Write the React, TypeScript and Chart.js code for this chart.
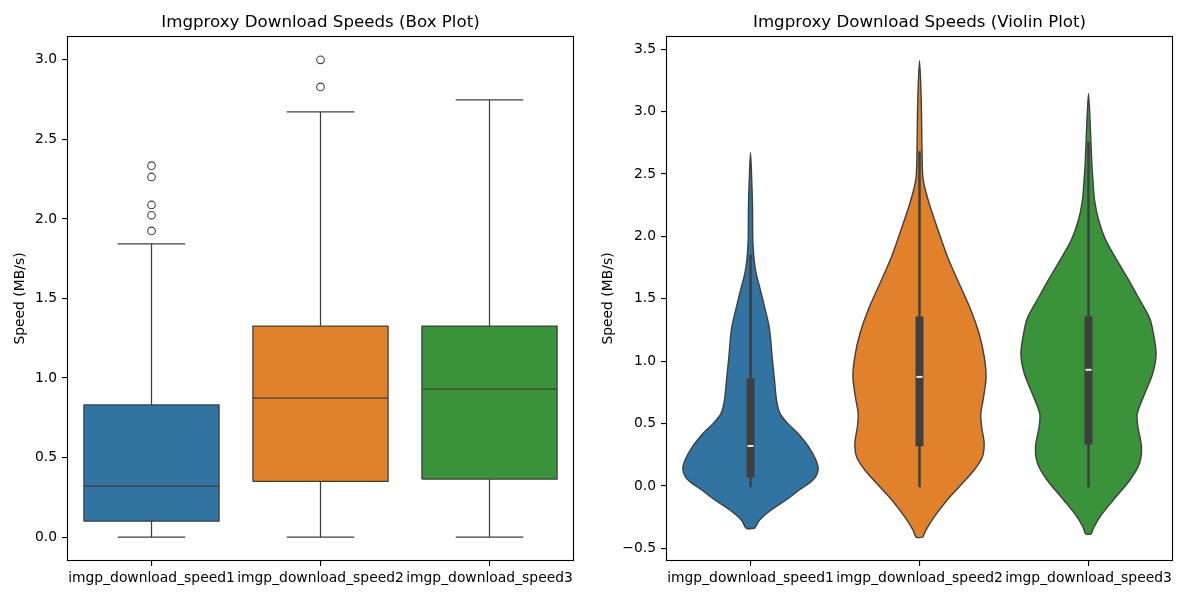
import React, { useEffect, useRef } from "react";
import { Chart, registerables } from "chart.js";

Chart.register(...registerables);

// ---------- data ----------
const CATEGORIES = ["imgp_download_speed1", "imgp_download_speed2", "imgp_download_speed3"];
const COLORS = ["#3274a1", "#e1812c", "#3a923a"];

const Q1 = [0.1, 0.35, 0.365];
const MEDIAN = [0.321, 0.874, 0.931];
const Q3 = [0.831, 1.327, 1.327];
const WHISKER_LOW = [0, 0, 0];
const WHISKER_HIGH = [1.844, 2.673, 2.748];
const OUTLIERS_1 = [2.335, 2.264, 2.088, 2.023, 1.925];
const OUTLIERS_2 = [3.0, 2.83];
const OUTLIERS_3: number[] = [];

const BOX_Y_TICKS = [0, 0.5, 1, 1.5, 2, 2.5, 3];
const VIOLIN_Y_TICKS = [-0.5, 0, 0.5, 1, 1.5, 2, 2.5, 3, 3.5];

// violin outlines: speed levels and relative density (half-width, 1 = widest)
const VIOLIN1_Y = [-0.339, -0.272, -0.192, -0.112, -0.032, 0.048, 0.128, 0.208, 0.315, 0.422, 0.502, 0.582, 0.689, 0.849, 1.04, 1.17, 1.28, 1.44, 1.57, 1.7, 1.81, 1.97, 2.24, 2.5, 2.67];
const VIOLIN1_D = [0.061, 0.135, 0.306, 0.527, 0.72, 0.924, 1.0, 0.968, 0.858, 0.7, 0.55, 0.436, 0.385, 0.355, 0.319, 0.299, 0.275, 0.206, 0.147, 0.085, 0.054, 0.034, 0.03, 0.015, 0];
const VIOLIN2_Y = [-0.41, -0.35, -0.246, -0.11, 0.02, 0.128, 0.235, 0.342, 0.475, 0.58, 0.716, 0.876, 1.04, 1.22, 1.41, 1.62, 1.84, 2.02, 2.24, 2.37, 2.48, 2.69, 3.09, 3.41];
const VIOLIN2_D = [0.049, 0.099, 0.221, 0.412, 0.632, 0.809, 0.931, 0.956, 0.919, 0.907, 0.949, 0.985, 0.956, 0.882, 0.76, 0.588, 0.412, 0.294, 0.157, 0.088, 0.049, 0.037, 0.026, 0];
const VIOLIN3_Y = [-0.385, -0.339, -0.246, -0.112, 0.048, 0.18, 0.315, 0.475, 0.58, 0.743, 0.903, 1.063, 1.276, 1.357, 1.49, 1.65, 1.81, 1.97, 2.13, 2.29, 2.455, 2.586, 2.85, 3.146];
const VIOLIN3_D = [0.041, 0.074, 0.172, 0.368, 0.613, 0.754, 0.784, 0.731, 0.721, 0.834, 0.951, 1.0, 0.941, 0.895, 0.76, 0.595, 0.42, 0.255, 0.15, 0.09, 0.065, 0.049, 0.029, 0];

// ---------- styles ----------
const FONT = "'DejaVu Sans', sans-serif";
const LINE = "#3f3f3f";
const BOX_HALF = 0.4;
const CAP_HALF = 0.2;
const VIOLIN_HALF = 0.4;

type Pt = { x: number; y: number };

function lineDs(data: Pt[], color: string, width: number, order: number, extra: any = {}) {
  return {
    data,
    showLine: true,
    borderColor: color,
    borderWidth: width,
    pointRadius: 0,
    pointHoverRadius: 0,
    fill: false,
    tension: 0,
    order,
    ...extra,
  };
}

function boxDatasets() {
  const outliers = [OUTLIERS_1, OUTLIERS_2, OUTLIERS_3];
  const ds: any[] = [];
  CATEGORIES.forEach((_, i) => {
    ds.push(
      lineDs(
        [
          { x: i - BOX_HALF, y: Q1[i] },
          { x: i + BOX_HALF, y: Q1[i] },
          { x: i + BOX_HALF, y: Q3[i] },
          { x: i - BOX_HALF, y: Q3[i] },
          { x: i - BOX_HALF, y: Q1[i] },
        ],
        LINE,
        1.25,
        5,
        { fill: "shape", backgroundColor: COLORS[i], borderJoinStyle: "miter" }
      )
    );
    ds.push(lineDs([{ x: i, y: Q3[i] }, { x: i, y: WHISKER_HIGH[i] }], LINE, 1.25, 4));
    ds.push(lineDs([{ x: i, y: Q1[i] }, { x: i, y: WHISKER_LOW[i] }], LINE, 1.25, 4));
    ds.push(lineDs([{ x: i - CAP_HALF, y: WHISKER_HIGH[i] }, { x: i + CAP_HALF, y: WHISKER_HIGH[i] }], LINE, 1.25, 4));
    ds.push(lineDs([{ x: i - CAP_HALF, y: WHISKER_LOW[i] }, { x: i + CAP_HALF, y: WHISKER_LOW[i] }], LINE, 1.25, 4));
    ds.push(lineDs([{ x: i - BOX_HALF, y: MEDIAN[i] }, { x: i + BOX_HALF, y: MEDIAN[i] }], LINE, 1.25, 3));
    ds.push({
      data: outliers[i].map((y) => ({ x: i, y })),
      showLine: false,
      pointRadius: 3.8,
      pointHoverRadius: 3.8,
      pointBorderColor: LINE,
      pointBackgroundColor: "rgba(0,0,0,0)",
      pointBorderWidth: 1.1,
      order: 1,
    });
  });
  return ds;
}

function violinDatasets() {
  const violins = [
    { y: VIOLIN1_Y, d: VIOLIN1_D },
    { y: VIOLIN2_Y, d: VIOLIN2_D },
    { y: VIOLIN3_Y, d: VIOLIN3_D },
  ];
  const ds: any[] = [];
  violins.forEach((v, i) => {
    const right = v.y.map((y, k) => ({ x: i + VIOLIN_HALF * v.d[k], y }));
    let left = v.y.map((y, k) => ({ x: i - VIOLIN_HALF * v.d[k], y })).reverse();
    if (v.d[v.d.length - 1] === 0) left = left.slice(1);
    const poly = [...right, ...left, right[0]];
    ds.push(lineDs(poly, LINE, 1.4, 5, { fill: "shape", backgroundColor: COLORS[i], tension: 0.3 }));
    ds.push(lineDs([{ x: i, y: WHISKER_LOW[i] }, { x: i, y: WHISKER_HIGH[i] }], LINE, 2.5, 4, { borderCapStyle: "square" }));
    ds.push(lineDs([{ x: i, y: Q1[i] }, { x: i, y: Q3[i] }], LINE, 8, 3, { borderCapStyle: "square" }));
    ds.push(lineDs([{ x: i - 0.018, y: MEDIAN[i] }, { x: i + 0.018, y: MEDIAN[i] }], "#e8e8e8", 2, 2));
  });
  return ds;
}

const framePlugin = {
  id: "frame",
  afterDraw(chart: any) {
    const { ctx, chartArea } = chart;
    const l = Math.round(chartArea.left) + 0.5;
    const t = Math.round(chartArea.top) + 0.5;
    const r = Math.round(chartArea.right) - 0.5;
    const b = Math.round(chartArea.bottom) - 0.5;
    ctx.save();
    ctx.strokeStyle = "#000";
    ctx.lineWidth = 1.1;
    ctx.strokeRect(l, t, r - l, b - t);
    ctx.restore();
  },
};

const fmt = (v: number) => (v < 0 ? "\u2212" + Math.abs(v).toFixed(1) : v.toFixed(1));

function makeConfig(
  title: string,
  datasets: any[],
  yMin: number,
  yMax: number,
  yTicks: number[],
  yWidth: number,
  padRight: number,
  yTitlePad: number
) {
  const tickFont = { family: FONT, size: 13.89 };
  return {
    type: "scatter" as const,
    data: { datasets },
    plugins: [framePlugin],
    options: {
      animation: false,
      responsive: false,
      events: [],
      layout: { padding: { left: 0, right: padRight, top: 0, bottom: 0 } },
      plugins: {
        legend: { display: false },
        tooltip: { enabled: false },
        title: {
          display: true,
          text: title,
          fullSize: false,
          color: "#000",
          font: { family: FONT, size: 16.67, weight: "normal", lineHeight: 1.2 },
          padding: { top: 13, bottom: 3 },
        },
      },
      scales: {
        x: {
          type: "linear",
          min: -0.5,
          max: 2.5,
          afterBuildTicks: (s: any) => {
            s.ticks = CATEGORIES.map((_, i) => ({ value: i }));
          },
          afterFit: (s: any) => {
            s.height = 39;
          },
          ticks: {
            callback: (v: any) => CATEGORIES[Number(v)],
            color: "#000",
            font: tickFont,
            padding: 4,
            autoSkip: false,
            maxRotation: 0,
            minRotation: 0,
          },
          grid: { display: true, drawOnChartArea: false, drawTicks: true, tickLength: 5, color: "#000", lineWidth: 1.1 },
          border: { display: false },
        },
        y: {
          type: "linear",
          min: yMin,
          max: yMax,
          afterBuildTicks: (s: any) => {
            s.ticks = yTicks.map((v) => ({ value: v }));
          },
          afterFit: (s: any) => {
            s.width = yWidth;
          },
          ticks: {
            callback: (v: any) => fmt(Number(v)),
            color: "#000",
            font: tickFont,
            padding: 5,
          },
          title: {
            display: true,
            text: "Speed (MB/s)",
            color: "#000",
            font: { family: FONT, size: 13.89, lineHeight: 1.2 },
            padding: { top: yTitlePad, bottom: 0 },
          },
          grid: { display: true, drawOnChartArea: false, drawTicks: true, tickLength: 5, color: "#000", lineWidth: 1.1 },
          border: { display: false },
        },
      },
    },
  };
}

export default function App() {
  const leftRef = useRef<HTMLCanvasElement | null>(null);
  const rightRef = useRef<HTMLCanvasElement | null>(null);

  useEffect(() => {
    const charts: Chart[] = [];
    if (leftRef.current) {
      charts.push(
        new Chart(
          leftRef.current,
          makeConfig("Imgproxy Download Speeds (Box Plot)", boxDatasets(), -0.15, 3.15, BOX_Y_TICKS, 67, 26, 12.5) as any
        )
      );
    }
    if (rightRef.current) {
      charts.push(
        new Chart(
          rightRef.current,
          makeConfig("Imgproxy Download Speeds (Violin Plot)", violinDatasets(), -0.601, 3.606, VIOLIN_Y_TICKS, 66, 27, 0) as any
        )
      );
    }
    return () => charts.forEach((c) => c.destroy());
  }, []);

  return (
    <div style={{ position: "absolute", left: 0, top: 0, width: 1200, height: 600, background: "#fff" }}>
      <canvas ref={leftRef} width={600} height={600} style={{ position: "absolute", left: 0, top: 0, width: 600, height: 600 }} />
      <canvas ref={rightRef} width={600} height={600} style={{ position: "absolute", left: 600, top: 0, width: 600, height: 600 }} />
    </div>
  );
}
